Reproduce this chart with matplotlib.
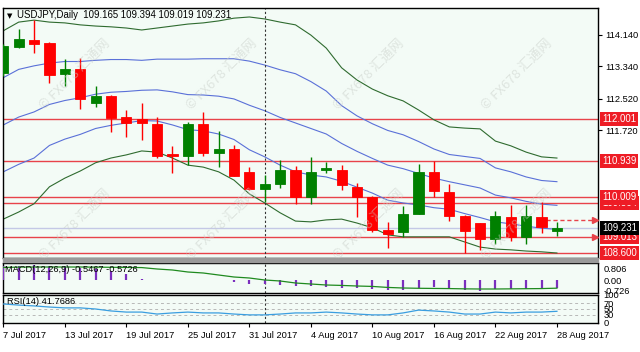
import matplotlib
matplotlib.use("Agg")
import matplotlib.pyplot as plt
import matplotlib.transforms as mtransforms
import numpy as np

plt.rcParams['font.family'] = ['Liberation Sans', 'DejaVu Sans']

# ---------------- data ----------------
opens = [113.17, 113.83, 114.01, 113.93, 113.14, 113.27, 112.41, 112.59, 112.05, 112.00,
         111.87, 111.10, 111.06, 111.87, 111.14, 111.24, 110.66, 110.23, 110.35, 110.71,
         110.03, 110.70, 110.71, 110.28, 110.03, 109.18, 109.14, 109.59, 110.66, 110.15,
         109.54, 109.36, 108.96, 109.51, 109.01, 109.51, 109.165]
highs = [113.90, 114.29, 114.51, 113.95, 113.52, 113.55, 112.84, 112.62, 112.23, 112.41,
         112.05, 111.32, 111.93, 112.18, 111.70, 111.34, 110.78, 110.58, 110.96, 110.81,
         111.04, 110.91, 110.84, 110.38, 110.05, 109.39, 109.79, 110.86, 110.94, 110.35,
         109.56, 109.37, 109.67, 109.82, 109.82, 109.90, 109.394]
lows = [113.10, 113.80, 113.68, 112.92, 112.84, 112.26, 112.31, 111.67, 111.54, 111.47,
        111.01, 110.63, 110.83, 111.06, 110.78, 110.55, 110.20, 109.90, 110.25, 109.84,
        109.84, 110.63, 110.20, 109.52, 109.13, 108.73, 109.01, 109.59, 110.03, 109.42,
        108.60, 108.68, 108.83, 108.91, 108.83, 109.11, 109.019]
closes = [113.85, 114.03, 113.91, 113.12, 113.27, 112.51, 112.59, 112.03, 111.90, 111.90,
          111.06, 111.07, 111.87, 111.14, 111.24, 110.56, 110.23, 110.35, 110.71, 110.03,
          110.66, 110.75, 110.33, 110.03, 109.18, 109.08, 109.59, 110.66, 110.18, 109.54,
          109.16, 108.96, 109.54, 109.01, 109.54, 109.26, 109.231]

bb_upper2 = [114.24, 114.46, 114.51, 114.46, 114.44, 114.39, 114.36, 114.34, 114.31, 114.26,
             114.31, 114.36, 114.41, 114.44, 114.49, 114.56, 114.59, 114.54, 114.46, 114.39,
             114.13, 113.80, 113.30, 112.99, 112.76, 112.59, 112.46, 112.23, 111.98, 111.80,
             111.77, 111.75, 111.44, 111.32, 111.16, 111.04, 111.01]
bb_lower2 = [109.46, 109.64, 109.85, 110.28, 110.50, 110.68, 110.89, 111.01, 111.09, 111.19,
             111.16, 111.01, 110.83, 110.78, 110.66, 110.45, 110.10, 109.87, 109.62, 109.41,
             109.39, 109.44, 109.46, 109.36, 109.24, 109.06, 109.01, 109.01, 109.01, 109.01,
             108.88, 108.75, 108.70, 108.68, 108.65, 108.63, 108.60]
bb_upper1 = [113.05, 113.26, 113.35, 113.42, 113.46, 113.46, 113.49, 113.51, 113.51, 113.49,
             113.52, 113.52, 113.52, 113.53, 113.53, 113.53, 113.47, 113.37, 113.25, 113.15,
             112.95, 112.71, 112.34, 112.08, 111.88, 111.71, 111.60, 111.43, 111.24, 111.10,
             111.05, 111.00, 110.76, 110.66, 110.53, 110.44, 110.41]
bb_middle = [111.85, 112.05, 112.18, 112.37, 112.47, 112.54, 112.63, 112.68, 112.70, 112.73,
             112.74, 112.69, 112.62, 112.61, 112.58, 112.51, 112.35, 112.21, 112.04, 111.90,
             111.76, 111.62, 111.38, 111.18, 111.00, 110.83, 110.74, 110.62, 110.50, 110.41,
             110.33, 110.25, 110.07, 110.00, 109.91, 109.84, 109.81]
bb_lower1 = [110.66, 110.85, 111.01, 111.33, 111.49, 111.61, 111.76, 111.84, 111.90, 111.96,
             111.95, 111.85, 111.73, 111.70, 111.62, 111.48, 111.22, 111.04, 110.83, 110.66,
             110.58, 110.53, 110.42, 110.27, 110.12, 109.94, 109.87, 109.82, 109.75, 109.71,
             109.60, 109.50, 109.39, 109.34, 109.28, 109.23, 109.20]

macd_main = [0.95, 1.00, 1.05, 1.00, 0.95, 0.85, 0.75, 0.60, 0.45, 0.05,
             0.03, 0.02, 0.03, 0.02, 0.02, -0.15, -0.25, -0.30, -0.35, -0.42,
             -0.45, -0.50, -0.55, -0.58, -0.60, -0.70, -0.70, -0.55, -0.50, -0.60,
             -0.70, -0.75, -0.65, -0.65, -0.60, -0.60, -0.5467]
macd_signal = [0.88, 0.90, 0.91, 0.91, 0.91, 0.91, 0.90, 0.89, 0.88, 0.87,
               0.77, 0.70, 0.56, 0.49, 0.35, 0.21, 0.14, 0.00, -0.07, -0.21,
               -0.28, -0.35, -0.38, -0.42, -0.45, -0.52, -0.56, -0.58, -0.59, -0.60,
               -0.62, -0.63, -0.63, -0.62, -0.61, -0.60, -0.5726]
rsi = [68, 64, 61, 57, 54, 54, 50, 43, 39, 39, 32, 36, 39, 36, 36, 32, 29, 29, 32, 36,
       36, 39, 36, 32, 29, 29, 36, 46, 43, 39, 32, 32, 39, 36, 39, 39, 41.77]

red_levels = [112.001, 110.939, 109.864, 110.009, 109.013, 108.600]
bid_level = 109.231
prev_high_level = 109.44

tick_idx = [0, 4, 8, 12, 16, 20, 24, 28, 32, 36]
tick_labels = ['7 Jul 2017', '13 Jul 2017', '19 Jul 2017', '25 Jul 2017', '31 Jul 2017',
               '4 Aug 2017', '10 Aug 2017', '16 Aug 2017', '22 Aug 2017', '28 Aug 2017']
price_ticks = [114.14, 113.34, 112.52, 111.72]

# ---------------- layout ----------------
W, H = 640, 352
fig = plt.figure(figsize=(W / 100, H / 100), dpi=100)
fig.patch.set_facecolor('white')


def box(x0, y0, x1, y1):
    return [x0 / W, 1 - y1 / H, (x1 - x0) / W, (y1 - y0) / H]


bg = '#f3fbf6'
ax = fig.add_axes(box(3, 8, 598, 258), facecolor=bg)
ax_m = fig.add_axes(box(3, 263, 598, 293), facecolor=bg)
ax_r = fig.add_axes(box(3, 295, 598, 323), facecolor=bg)

fig.patches.append(plt.Rectangle((3 / W, 1 - 262 / H), 595 / W, 4 / H,
                                 transform=fig.transFigure, color='#9a9a9a', zorder=0))

idx = np.arange(len(opens))
xlim = (-0.02, 38.67)
green = '#008000'
red = '#ff0000'

# ---------------- main price panel ----------------
for lv in red_levels:
    ax.axhline(lv, color='#e8434a', lw=1.0, zorder=1)
ax.axhline(bid_level, color='#c4c8e6', lw=1.0, zorder=1)

ax.plot(idx, bb_upper2, color='#2f6b2f', lw=0.8, zorder=2)
ax.plot(idx, bb_lower2, color='#2f6b2f', lw=0.8, zorder=2)
ax.plot(idx, bb_upper1, color='#5a70d8', lw=0.8, zorder=2)
ax.plot(idx, bb_middle, color='#5a70d8', lw=0.8, zorder=2)
ax.plot(idx, bb_lower1, color='#5a70d8', lw=0.8, zorder=2)

o = np.array(opens)
c = np.array(closes)
cols = [green if cc >= oo else red for oo, cc in zip(o, c)]
ax.vlines(idx, lows, highs, colors=cols, lw=1.0, zorder=3)
body_lo = np.minimum(o, c)
body_h = np.maximum(np.abs(c - o), 0.03)
ax.bar(idx, body_h, bottom=body_lo, width=0.66, color=cols, edgecolor=cols, lw=0.6, zorder=4)

ax.plot([35.3, 38.4], [prev_high_level] * 2, color='#e8434a', lw=1.0, ls=(0, (3, 2)), zorder=2)
ax.plot([38.45], [prev_high_level], marker='>', color='#e8434a', ms=4, zorder=5)
ax.plot([38.45], [red_levels[4]], marker='>', color='#e8434a', ms=4, zorder=5)

ax.set_xlim(*xlim)
ax.set_ylim(108.473, 114.818)
ax.set_xticks([])
ax.yaxis.tick_right()
ax.set_yticks(price_ticks)
ax.set_yticklabels(['%.3f' % p for p in price_ticks])
ax.tick_params(axis='y', length=3, width=0.8, pad=2, labelsize=6.7, colors='black')

trans = mtransforms.blended_transform_factory(ax.transAxes, ax.transData)
for lv in red_levels:
    ax.text(1.0065, lv, '%.3f' % lv, transform=trans, fontsize=6.9, color='white',
            va='center', ha='left', clip_on=False, zorder=10,
            bbox=dict(boxstyle='square,pad=0.22', fc='#ee1c25', ec='none'))
ax.text(1.0065, bid_level, '%.3f' % bid_level, transform=trans, fontsize=6.9, color='white',
        va='center', ha='left', clip_on=False, zorder=10,
        bbox=dict(boxstyle='square,pad=0.22', fc='black', ec='none'))

fig.text(7 / W, 1 - 16 / H, '\u25bc', fontsize=5, va='center', ha='left', family='DejaVu Sans')
fig.text(17 / W, 1 - 15.5 / H, 'USDJPY,Daily  109.165 109.394 109.019 109.231',
         fontsize=6.9, va='center', ha='left')

# ---------------- MACD ----------------
ax_m.vlines(idx, 0, macd_main, colors='#7b2fbe', lw=1.6, zorder=3)
ax_m.plot(idx, macd_signal, color='#1f8a1f', lw=0.9, zorder=4)
ax_m.set_xlim(*xlim)
ax_m.set_ylim(-0.91, 1.19)
ax_m.set_xticks([])
ax_m.yaxis.tick_right()
ax_m.set_yticks([0.806, 0.0, -0.726])
ax_m.set_yticklabels(['0.806', '0.00', '-0.726'])
ax_m.tick_params(axis='y', length=0, pad=4, labelsize=6.7)
ax_m.text(0.004, 0.8, 'MACD(12,26,9) -0.5467 -0.5726', transform=ax_m.transAxes,
          fontsize=6.7, va='center', ha='left', zorder=6)

# ---------------- RSI ----------------
for lv in [70, 50, 30]:
    ax_r.axhline(lv, color='#b8b8b8', lw=0.7, ls=(0, (3, 3)), zorder=1)
ax_r.plot(idx, rsi, color='#3a9ee0', lw=0.9, zorder=3)
ax_r.set_xlim(*xlim)
ax_r.set_ylim(0, 100)
ax_r.yaxis.tick_right()
ax_r.set_yticks([100, 70, 50, 30, 0])
ax_r.set_yticklabels(['100', '70', '50', '30', '0'])
ax_r.tick_params(axis='y', length=0, pad=4, labelsize=6.7)
ax_r.text(0.006, 0.75, 'RSI(14) 41.7686', transform=ax_r.transAxes,
          fontsize=6.7, va='center', ha='left', zorder=6)
ax_r.set_xticks(tick_idx)
ax_r.set_xticklabels(tick_labels, ha='left')
ax_r.tick_params(axis='x', length=3, width=0.8, pad=3, labelsize=6.7)

for a in (ax, ax_m, ax_r):
    a.axvline(17, color='#333333', lw=0.8, ls=(0, (2, 2)), zorder=2)
    for s in a.spines.values():
        s.set_color('black')
        s.set_linewidth(1.0)

# ---------------- watermarks ----------------
for wy in [75, 225]:
    for wx in [75, 222, 369, 517]:
        fig.text(wx / W, 1 - wy / H, '\u00a9 FX678 \u6c47\u901a\u7f51', rotation=45,
                 fontsize=9.5, color='#c9cfc9', alpha=0.5, ha='center', va='center',
                 family=['Noto Sans CJK SC', 'DejaVu Sans'], zorder=20)

fig.savefig('out.png', dpi=100)
